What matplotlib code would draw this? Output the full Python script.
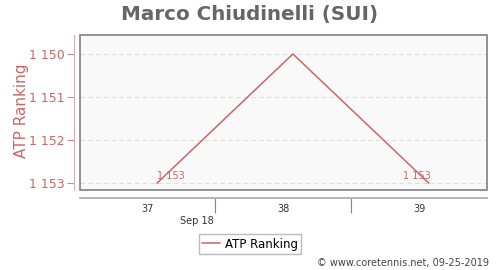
import matplotlib
matplotlib.use('Agg')
import matplotlib.pyplot as plt
from matplotlib.patches import Rectangle

# data
days = [0, 7, 14]            # days after Sep 16
ranking = [1153, 1150, 1153]
week_labels = ['37', '38', '39']
week_centres = [-0.5, 6.5, 13.5]
week_bounds = [3, 10]
yticks = [1150, 1151, 1152, 1153]

red = '#cc6666'
fig = plt.figure(figsize=(5, 2.7), dpi=100)
ax = fig.add_axes([0.16, 0.2963, 0.814, 0.574])
ax.set_facecolor('#f9f9f9')

ax.plot(days, ranking, color=red, lw=1.1, label='ATP Ranking', zorder=3)
ax.text(days[0] + 0.7, ranking[0] - 0.17, '1 153', color=red, fontsize=7,
        ha='center', va='center', zorder=4)
ax.text(days[2] - 0.6, ranking[2] - 0.17, '1 153', color=red, fontsize=7,
        ha='center', va='center', zorder=4)

ax.set_xlim(-3.97, 17.0)
ax.set_ylim(1153.16, 1149.56)

for y in yticks:
    ax.axhline(y, color='#dddddd', lw=0.8, ls=(0, (4, 3)), zorder=1)

for s in ['top', 'right']:
    ax.spines[s].set_visible(False)
ax.spines['left'].set_position(('outward', 4))
ax.spines['left'].set_color('#e0b0b0')
ax.spines['bottom'].set_position(('outward', 6))
ax.spines['bottom'].set_color('#aaaaaa')
ax.spines['bottom'].set_linewidth(1.2)
ax.add_patch(Rectangle((0, 0), 1, 1, transform=ax.transAxes, fill=False,
                       edgecolor='#808080', lw=1.2, clip_on=False, zorder=5))

ax.set_yticks(yticks)
ax.set_yticklabels(['1 150', '1 151', '1 152', '1 153'])
ax.tick_params(axis='y', colors=red, labelsize=9, length=5, width=0.8, pad=2)
ax.tick_params(axis='y', color='#cc8888')

ax.set_xticks(week_bounds)
ax.set_xticklabels([])
ax.tick_params(axis='x', which='major', length=11, color='#888888', width=0.8)
ax.set_xticks(week_centres, minor=True)
ax.set_xticklabels(week_labels, minor=True)
ax.tick_params(axis='x', which='minor', length=0, labelsize=7, colors='#333333', pad=4)

ax.text(2.06, -0.2, 'Sep 18', transform=ax.get_xaxis_transform(),
        fontsize=7, color='#333333', ha='center', va='center')

# y label placed in figure pixels like the reference
fig.text(22 / 500, (270 - 111) / 270, 'ATP Ranking', rotation=90,
         ha='center', va='center', color=red, fontsize=11)

fig.text(0.5, 0.945, 'Marco Chiudinelli (SUI)', ha='center', va='center',
         fontsize=14.3, fontweight='bold', color='#666666')

fig.legend(loc='center', bbox_to_anchor=(0.5, 0.096), fontsize=8.5,
           fancybox=False, edgecolor='#bbbbbb', handlelength=1.5,
           borderpad=0.3, handletextpad=0.4, framealpha=1)

fig.text(0.978, 0.026, '\u00a9 www.coretennis.net, 09-25-2019', ha='right',
         va='center', fontsize=7, color='#444444')

fig.savefig('out.png', dpi=100)
